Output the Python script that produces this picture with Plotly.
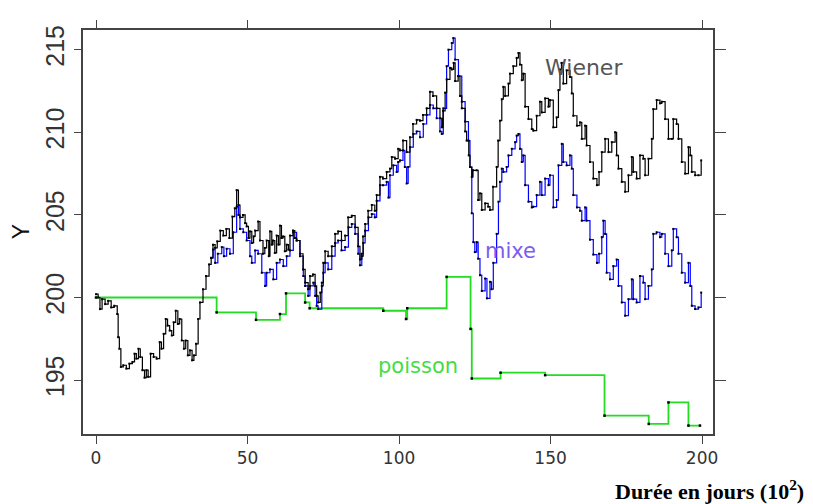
import plotly.graph_objects as go

# ---- data ----
wiener_x = [0, 0.7, 1.3, 2, 3, 4, 5, 6, 7, 7.3, 7.7, 8.2, 9, 10, 11, 12, 12.7, 13.3, 14, 14.6,
            15.3, 16, 16.6, 17.2, 18, 19, 20, 21, 21.6, 22.3, 23, 23.6, 24.3, 25, 25.6, 26.3, 27, 27.6, 28.3, 29,
            29.6, 30.3, 31, 31.7, 32.3, 33, 33.7, 34.3, 35.3, 36.3, 37.3, 38, 38.6, 39.3, 40, 41, 42, 43, 44, 45,
            45.8, 46.4, 47, 47.5, 48.5, 49.2, 49.7, 50.3, 50.8, 51.4, 52, 52.5, 53.5, 54.1, 55.1, 55.7, 56.3, 57, 57.4, 58,
            58.4, 59, 59.6, 60.2, 60.7, 61.2, 61.7, 62.3, 62.9, 63.5, 64, 65, 65.6, 66.2, 67.3, 68.3, 69, 70, 70.6, 71.6,
            72.3, 72.8, 73.3, 74, 74.5, 75, 75.6, 76.6, 77.8, 78.9, 79.9, 81, 82.2, 83.2, 84.4, 85.5, 86.5, 87.1, 87.7, 88.1,
            88.8, 89.8, 91, 92, 92.6, 93.7, 94.7, 95.9, 97, 97.6, 98.7, 99.7, 100.3, 101.3, 102.5, 103.6, 104.6, 105.8, 106.9, 107.9,
            109.1, 110.2, 111.2, 112.4, 113.5, 114.1, 114.5, 115.2, 115.7, 116.8, 117.4, 118, 118.5, 119.5, 120.1, 120.7, 121.8, 122.3, 123, 123.4,
            124, 124.4, 125.6, 126.1, 126.7, 127.3, 128.4, 129.4, 130, 131, 132.2, 132.7, 133.3, 133.9, 134.4, 135, 136.1, 136.6, 137.7, 138.8,
            139.4, 139.9, 140.5, 141, 141.6, 142.7, 143.8, 144.3, 145.4, 146.5, 147.1, 148.2, 149.3, 149.8, 150.9, 152, 152.6, 153.1, 153.6, 154.2,
            155.3, 156.4, 157, 157.5, 158.7, 159.7, 160.3, 161.4, 161.9, 163, 164.1, 165.3, 166, 166.9, 168, 169.1, 170.2, 171.3, 171.8, 172.4,
            173.5, 174.6, 175.7, 176.8, 177.3, 178.4, 179.5, 180.6, 181.2, 182.3, 183.4, 183.9, 185, 186.1, 186.7, 187.8, 188.9, 190, 190.5, 191.6,
            192.2, 193.3, 194.4, 195.5, 196.1, 196.6, 197.7, 198.8, 199.7]
wiener_y = [200.2, 200.0, 199.3, 199.9, 199.6, 199.8, 199.4, 199.5, 199.0, 197.6, 196.9, 195.8, 195.9, 195.7, 196.0, 196.1, 196.6, 196.3, 196.9, 196.4,
            195.6, 195.15, 195.6, 195.2, 196.6, 196.4, 196.3, 197.3, 196.9, 197.8, 198.7, 198.3, 198.0, 197.7, 198.5, 199.2, 198.4, 198.7, 197.4, 196.9,
            197.4, 196.5, 196.8, 196.2, 196.5, 197.2, 198.7, 199.7, 200.5, 201.3, 202.0, 202.4, 203.2, 203.0, 203.4, 204.05, 203.75, 204.15, 203.6, 204.9,
            205.4, 206.5, 205.6, 204.85, 205.0, 204.5, 204.3, 203.6, 204.0, 203.3, 203.7, 204.05, 204.6, 203.45, 202.65, 203.0, 203.45, 202.5, 204.0, 203.2,
            203.45, 202.7, 203.75, 203.2, 204.35, 203.6, 203.7, 202.8, 203.2, 202.9, 203.75, 204.05, 203.6, 203.45, 202.65, 201.7, 200.9, 200.5, 201.3, 201.4,
            200.7, 200.1, 199.7, 200.3, 200.9, 202.1, 202.8, 202.5, 203.1, 203.85, 204.0, 203.45, 203.75, 204.85, 204.95, 204.25, 203.1, 202.3, 202.65, 203.7,
            204.45, 205.25, 205.6, 205.25, 206.2, 207.3, 207.2, 207.6, 207.8, 208.5, 208.4, 209.0, 208.9, 209.5, 208.8, 209.7, 210.5, 210.75, 210.7, 211.05,
            211.45, 212.45, 212.2, 211.45, 210.85, 210.3, 211.3, 212.4, 213.2, 213.9, 213.8, 214.2, 213.1, 213.4, 212.2, 211.45, 210.05, 209.5, 208.6, 207.9,
            207.3, 207.7, 207.7, 205.9, 206.3, 205.3, 205.7, 205.5, 205.3, 206.7, 207.9, 209.5, 210.7, 212.0, 212.75, 212.2, 212.95, 213.55, 214.0, 214.5,
            214.8, 214.1, 213.15, 213.55, 211.55, 210.8, 210.2, 210.1, 211.0, 211.85, 211.2, 212.05, 211.55, 211.95, 210.3, 210.9, 212.55, 213.8, 214.2, 212.95,
            213.75, 213.35, 212.35, 211.0, 210.4, 210.6, 209.6, 210.4, 209.2, 208.2, 207.2, 206.8, 207.6, 208.8, 209.6, 208.8, 209.4, 210.0, 208.6, 207.8,
            207.0, 206.4, 207.4, 208.5, 207.6, 207.2, 208.6, 208.4, 207.4, 208.4, 209.6, 211.4, 211.95, 211.75, 211.85, 210.8, 209.6, 209.6, 210.8, 210.5,
            209.6, 208.2, 207.5, 209.1, 208.6, 207.6, 207.4, 207.4, 208.3]

mixe_x = [38, 38.6, 39.3, 40.2, 41.5, 42.2, 43.1, 44.2, 45.3, 46.4, 47, 47.5, 48.6, 49.7, 50.8, 51.4, 52.5, 53.5, 54.7, 55.8,
          56.3, 57.4, 58.5, 59.6, 60.7, 61.8, 62.9, 64, 65.1, 66.2, 67.3, 68.4, 69, 70, 70.6, 71.7, 72.3, 72.8, 73.3, 74.5,
          75, 75.6, 76.6, 77.8, 78.9, 79.9, 81, 82.2, 83.3, 84.4, 85.5, 86.5, 87.1, 87.7, 88.2, 88.8, 89.9, 91, 92, 92.6,
          93.7, 94.7, 95.9, 96.5, 97, 98.1, 99.2, 99.7, 100.3, 101.3, 101.9, 102.5, 103, 103.6, 104.7, 105.8, 106.9, 108, 109.1, 110.2,
          111.3, 112.4, 113.5, 114.1, 114.6, 115.7, 116.3, 117.4, 117.9, 118.5, 119.6, 120.7, 121.8, 122.9, 123.4, 124, 124.5, 125, 125.6, 126.1,
          126.7, 127.3, 128.4, 129, 130, 130.5, 131.1, 132.2, 132.8, 133.3, 133.9, 134.4, 135.5, 136.1, 137.2, 138.3, 138.8, 139.4, 139.9, 140.5,
          141, 141.6, 142.7, 143.8, 144.3, 145.4, 146.5, 147.1, 148.2, 149.3, 149.8, 150.9, 152, 152.6, 153.7, 154.2, 155.3, 156.4, 157, 157.5,
          158.7, 159.7, 160.3, 161.4, 161.9, 163, 164.1, 165.3, 166, 166.9, 167.4, 168, 168.5, 169.6, 170.7, 171.8, 172.4, 173.5, 174.6, 175.7,
          176.8, 177.3, 178.4, 179.5, 180.6, 181.2, 182.3, 183.4, 183.9, 185, 186.1, 186.7, 187.8, 188.9, 190, 190.5, 191.6, 192.2, 193.3, 194.4,
          195.5, 196.1, 196.6, 197.7, 198.8, 199.7]
mixe_y = [202.4, 202.9, 202.1, 202.65, 203.05, 202.5, 202.95, 202.65, 203.95, 205.5, 205.0, 204.15, 203.95, 203.45, 202.5, 202.1, 202.85, 202.65, 201.5, 200.7,
          201.5, 201.7, 201.1, 202.1, 202.3, 201.9, 202.5, 202.85, 203.95, 203.45, 202.5, 201.3, 200.7, 200.1, 200.7, 200.9, 200.1, 199.5, 199.3, 200.7,
          201.5, 202.1, 201.7, 202.5, 203.3, 203.45, 202.85, 203.05, 204.25, 204.45, 203.85, 202.65, 201.95, 202.5, 203.3, 204.05, 204.85, 205.05, 204.85, 205.85,
          206.8, 206.8, 207.0, 206.05, 207.4, 208.0, 207.6, 208.2, 208.3, 208.9, 207.9, 206.9, 207.9, 209.1, 209.9, 210.05, 209.7, 210.5, 211.05, 211.65,
          211.45, 210.85, 210.05, 209.9, 211.45, 214.0, 215.0, 215.4, 215.7, 214.4, 213.4, 211.85, 210.65, 209.5, 207.9, 205.1, 203.35, 202.75, 203.35, 202.35,
          201.35, 200.4, 201.15, 199.95, 200.95, 200.5, 202.1, 203.85, 205.8, 207.0, 207.8, 207.6, 207.9, 208.6, 209.0, 209.4, 209.8, 209.9, 209.0, 208.2,
          208.6, 206.8, 205.8, 205.45, 205.5, 206.2, 207.0, 206.2, 207.2, 206.8, 207.4, 205.45, 205.9, 208.0, 209.3, 208.2, 208.0, 208.6, 207.8, 206.2,
          205.45, 205.25, 204.65, 205.45, 204.65, 203.5, 202.6, 202.1, 202.65, 203.65, 204.65, 203.85, 201.5, 201.1, 201.9, 202.3, 200.7, 199.7, 198.9, 199.9,
          201.1, 199.9, 199.7, 201.3, 200.9, 199.9, 200.7, 201.7, 203.85, 203.95, 203.65, 203.85, 202.65, 201.9, 202.85, 204.15, 203.65, 202.65, 201.5, 200.9,
          202.1, 200.7, 199.5, 199.3, 199.4, 200.3]

poisson_x = [0, 39.8, 52.8, 60.7, 62.7, 69, 70.5, 94.8, 102.3, 102.7, 115.7, 123.6, 124, 133.5, 148.2, 167.8, 182.4, 188.9, 195.5, 199.3]
poisson_y = [200.0, 199.1, 198.65, 199.0, 200.25, 199.7, 199.35, 199.2, 198.7, 199.35, 201.25, 198.1, 195.1, 195.45, 195.3, 192.85, 192.35, 193.65, 192.25, 192.25]

x_ticks = [0, 50, 100, 150, 200]
y_ticks = [195, 200, 205, 210, 215]
x_range = [-4.3, 203.6]
y_range = [191.74, 216.19]

fig = go.Figure()
fig.add_trace(go.Scatter(x=poisson_x, y=poisson_y, mode="lines+markers", line=dict(color="#22dd22", width=1.8, shape="hv"),
                         marker=dict(color="#000000", size=2.5, symbol="square"),
                         showlegend=False, hoverinfo="skip"))
fig.add_trace(go.Scatter(x=mixe_x, y=mixe_y, mode="lines+markers", line=dict(color="#0000ff", width=1.2, shape="hv"),
                         marker=dict(color="#000000", size=2, symbol="square"),
                         showlegend=False, hoverinfo="skip"))
fig.add_trace(go.Scatter(x=wiener_x, y=wiener_y, mode="lines+markers", line=dict(color="#000000", width=1.2, shape="hv"),
                         marker=dict(color="#000000", size=2, symbol="square"),
                         showlegend=False, hoverinfo="skip"))
# dummy trace so the right-hand tick axis is drawn
fig.add_trace(go.Scatter(x=[None], y=[None], yaxis="y2", showlegend=False, hoverinfo="skip"))

axis_col = "#444444"
fig.update_layout(
    width=805, height=496,
    margin=dict(l=75, r=100, t=14, b=70),
    paper_bgcolor="white", plot_bgcolor="white",
    xaxis=dict(range=x_range, tickvals=x_ticks, ticks="outside", ticklen=8, tickwidth=1.3, tickcolor=axis_col,
               showline=True, linecolor=axis_col, linewidth=1.5, mirror="ticks", showgrid=False, zeroline=False,
               tickfont=dict(family="DejaVu Sans", size=17, color="#333333")),
    yaxis=dict(range=y_range, tickvals=y_ticks, ticks="outside", ticklen=7, tickwidth=1.3, tickcolor=axis_col,
               showline=True, linecolor=axis_col, linewidth=1.5, mirror=True, showgrid=False, zeroline=False,
               tickangle=-90,
               tickfont=dict(family="Liberation Sans Narrow, Arial Narrow, Liberation Sans", size=25, color="#333333")),
    yaxis2=dict(range=y_range, tickvals=y_ticks, overlaying="y", side="right", ticks="outside", ticklen=12,
                tickwidth=1.3, tickcolor=axis_col, showticklabels=False, showline=False, showgrid=False, zeroline=False),
)

fig.add_annotation(text="Y", xref="paper", yref="paper", x=-0.098, y=0.5, xanchor="center", yanchor="middle",
                   textangle=-90, showarrow=False,
                   font=dict(family="Liberation Sans", size=23, color="#111111"))
fig.add_annotation(text="<b>Durée en jours (10<sup>2</sup>)</b>", xref="paper", yref="paper", x=1.147, y=-0.178,
                   xanchor="right", yanchor="bottom", showarrow=False,
                   font=dict(family="Liberation Serif", size=22, color="#000000"))
fig.add_annotation(text="Wiener", xref="x", yref="y", x=147.5, y=213.94, xanchor="left", yanchor="middle",
                   showarrow=False, font=dict(family="DejaVu Sans", size=22, color="#555555"))
fig.add_annotation(text="mixe", xref="x", yref="y", x=127.7, y=202.8, xanchor="left", yanchor="middle",
                   showarrow=False, font=dict(family="DejaVu Sans", size=21, color="#7a5cf0"))
fig.add_annotation(text="poisson", xref="x", yref="y", x=92.4, y=195.85, xanchor="left", yanchor="middle",
                   showarrow=False, font=dict(family="DejaVu Sans", size=21, color="#44dd44"))

fig.write_html("out.html")
